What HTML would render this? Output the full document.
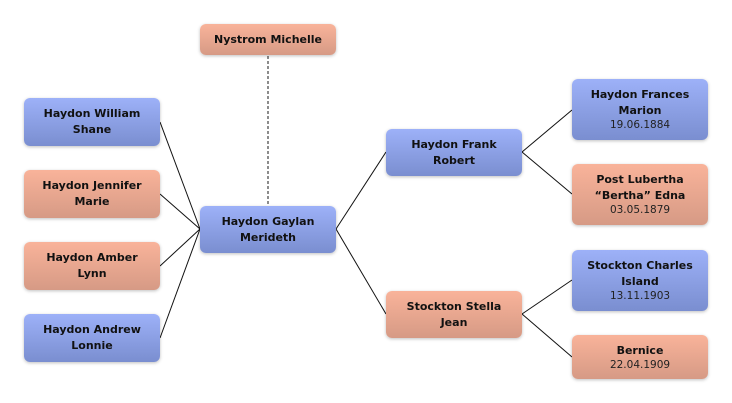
<!DOCTYPE html>
<html><head><meta charset="utf-8"><style>
body{margin:0;width:732px;height:403px;background:#fff;position:relative;overflow:hidden;font-family:"DejaVu Sans","Liberation Sans",sans-serif;}
.b{position:absolute;width:136px;border-radius:6px;display:flex;flex-direction:column;justify-content:center;align-items:center;text-align:center;box-shadow:0 1px 3px rgba(0,0,0,0.25);color:#111;}
.bl{background:linear-gradient(#9db1f8,#7a8ed0);}
.pk{background:linear-gradient(#f9b39a,#d69a85);}
.n{font-weight:bold;font-size:11px;line-height:16px;}
.d{font-size:10.5px;line-height:13px;color:#222;}
svg{position:absolute;left:0;top:0;}
</style></head><body>
<svg width="732" height="403">
<g stroke="#111" stroke-width="1" fill="none">
<line x1="160" y1="122" x2="200" y2="229"/>
<line x1="160" y1="194" x2="200" y2="229"/>
<line x1="160" y1="266" x2="200" y2="229"/>
<line x1="160" y1="338" x2="200" y2="229"/>
<line x1="336" y1="229" x2="386" y2="152"/>
<line x1="336" y1="229" x2="386" y2="314"/>
<line x1="522" y1="152" x2="572" y2="110"/>
<line x1="522" y1="152" x2="572" y2="194"/>
<line x1="522" y1="314" x2="572" y2="280"/>
<line x1="522" y1="314" x2="572" y2="357"/>
</g>
<line x1="268" y1="56" x2="268" y2="205" stroke="#666" stroke-width="1.5" stroke-dasharray="3,2"/>
</svg>
<div class="b pk" style="left:200px;top:24px;height:31px"><div class="n">Nystrom Michelle</div></div>
<div class="b bl" style="left:200px;top:206px;height:47px"><div class="n">Haydon Gaylan<br>Merideth</div></div>
<div class="b bl" style="left:386px;top:129px;height:47px"><div class="n">Haydon Frank<br>Robert</div></div>
<div class="b pk" style="left:386px;top:291px;height:47px"><div class="n">Stockton Stella<br>Jean</div></div>
<div class="b bl" style="left:24px;top:98px;height:48px"><div class="n">Haydon William<br>Shane</div></div>
<div class="b pk" style="left:24px;top:170px;height:48px"><div class="n">Haydon Jennifer<br>Marie</div></div>
<div class="b pk" style="left:24px;top:242px;height:48px"><div class="n">Haydon Amber<br>Lynn</div></div>
<div class="b bl" style="left:24px;top:314px;height:48px"><div class="n">Haydon Andrew<br>Lonnie</div></div>
<div class="b bl" style="left:572px;top:79px;height:61px"><div class="n">Haydon Frances<br>Marion</div><div class="d">19.06.1884</div></div>
<div class="b pk" style="left:572px;top:164px;height:61px"><div class="n">Post Lubertha<br>“Bertha” Edna</div><div class="d">03.05.1879</div></div>
<div class="b bl" style="left:572px;top:250px;height:61px"><div class="n">Stockton Charles<br>Island</div><div class="d">13.11.1903</div></div>
<div class="b pk" style="left:572px;top:335px;height:44px"><div class="n">Bernice</div><div class="d">22.04.1909</div></div>
</body></html>
